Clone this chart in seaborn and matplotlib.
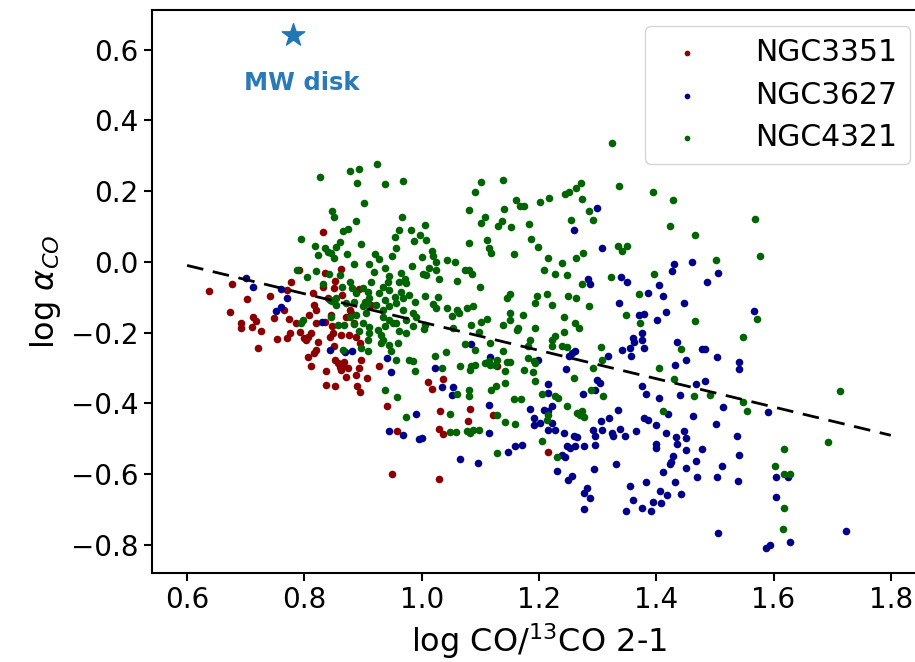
import seaborn as sns
import matplotlib.pyplot as plt
import pandas as pd

# log CO/13CO 2-1 vs log alpha_CO
ngc3351 = [
    (0.638, -0.082), (0.676, -0.062), (0.673, -0.143), (0.702, -0.105), (0.692, -0.172),
    (0.692, -0.188), (0.710, -0.183), (0.713, -0.156), (0.718, -0.166), (0.726, -0.194),
    (0.721, -0.242), (0.742, -0.096), (0.753, -0.217), (0.749, -0.159), (0.766, -0.136),
    (0.770, -0.079), (0.777, -0.056), (0.773, -0.162), (0.771, -0.216), (0.776, -0.202),
    (0.785, -0.172), (0.793, -0.197), (0.799, -0.216), (0.803, -0.220), (0.807, -0.211),
    (0.811, -0.202), (0.814, -0.089), (0.817, -0.122), (0.820, -0.136), (0.819, -0.173),
    (0.823, -0.225), (0.820, -0.249), (0.817, -0.258), (0.807, -0.268), (0.811, -0.294),
    (0.831, -0.072), (0.836, -0.169), (0.840, -0.103), (0.846, -0.150), (0.847, -0.181),
    (0.843, -0.211), (0.848, -0.202), (0.851, -0.239), (0.853, -0.277), (0.857, -0.287),
    (0.860, -0.296), (0.863, -0.305), (0.865, -0.291), (0.868, -0.282), (0.871, -0.324),
    (0.874, -0.301), (0.876, -0.206), (0.871, -0.155), (0.877, -0.136), (0.880, -0.145),
    (0.884, -0.173), (0.888, -0.211), (0.895, -0.230), (0.897, -0.277), (0.893, -0.301),
    (0.888, -0.319), (0.889, -0.352), (0.895, -0.367), (0.907, -0.327), (0.837, -0.308),
    (0.837, -0.348), (0.852, -0.352), (0.851, -0.075), (0.865, -0.093), (0.894, -0.077),
    (0.914, -0.122), (0.927, -0.294), (0.941, -0.406), (0.958, -0.478), (0.949, -0.600),
    (1.011, -0.340), (1.017, -0.360), (1.036, -0.331), (1.032, -0.421), (1.030, -0.472),
    (1.036, -0.486), (1.083, -0.417), (1.079, -0.449), (1.121, -0.432), (1.030, -0.613),
    (0.831, 0.084), (0.791, -0.024), (0.863, -0.020), (0.835, -0.030), (0.852, -0.055),
    (1.129, -0.295), (1.215, -0.538), (0.808, -0.149), (0.862, -0.208),
]

ngc3627 = [
    (0.701, -0.045), (0.713, -0.070), (0.761, -0.077), (0.771, -0.103), (0.752, -0.138),
    (0.760, -0.128), (0.830, -0.170), (0.843, -0.250), (0.870, -0.256), (0.881, -0.253),
    (0.941, -0.271), (0.948, -0.311), (0.990, -0.430), (0.944, -0.477), (0.969, -0.488),
    (0.995, -0.500), (1.299, 0.151), (1.260, 0.091), (1.307, 0.038), (1.284, -0.049),
    (1.287, -0.062), (1.340, -0.043), (1.350, -0.057), (1.431, -0.005), (1.461, 0.000),
    (1.427, -0.027), (1.505, -0.031), (1.486, -0.058), (1.405, -0.066), (1.386, -0.088),
    (1.411, -0.095), (1.336, -0.115), (1.370, -0.149), (1.360, -0.215), (1.362, -0.225),
    (1.355, -0.244), (1.342, -0.250), (1.357, -0.267), (1.318, -0.267), (1.256, -0.258),
    (1.252, -0.267), (1.262, -0.253), (1.247, -0.303), (1.199, -0.277), (1.117, -0.269),
    (1.085, -0.231), (1.023, -0.300), (1.034, -0.354), (1.053, -0.354), (1.051, -0.375),
    (1.114, -0.404), (1.184, -0.416), (1.208, -0.418), (1.216, -0.422), (1.222, -0.406),
    (1.216, -0.344), (1.216, -0.371), (1.275, -0.373), (1.299, -0.333), (1.304, -0.342),
    (1.296, -0.361), (1.334, -0.418), (1.191, -0.441), (1.202, -0.455), (1.191, -0.460),
    (1.222, -0.455), (1.228, -0.474), (1.216, -0.474), (1.242, -0.484), (1.259, -0.493),
    (1.265, -0.495), (1.276, -0.519), (1.262, -0.521), (1.248, -0.521), (1.253, -0.526),
    (1.293, -0.474), (1.296, -0.493), (1.296, -0.517), (1.305, -0.451), (1.308, -0.476),
    (1.319, -0.441), (1.325, -0.484), (1.327, -0.493), (1.338, -0.472), (1.347, -0.491),
    (1.365, -0.479), (1.115, -0.484), (1.159, -0.519), (1.171, -0.517), (1.148, -0.538),
    (1.239, -0.545), (1.245, -0.550), (1.065, -0.557), (1.000, -0.498), (1.447, -0.116),
    (1.379, -0.147), (1.416, -0.142), (1.401, -0.163), (1.376, -0.201), (1.376, -0.220),
    (1.379, -0.244), (1.435, -0.227), (1.478, -0.245), (1.483, -0.245), (1.450, -0.278),
    (1.432, -0.292), (1.504, -0.269), (1.541, -0.284), (1.542, -0.303), (1.567, -0.138),
    (1.376, -0.352), (1.382, -0.373), (1.404, -0.386), (1.440, -0.377), (1.468, -0.344),
    (1.484, -0.338), (1.514, -0.410), (1.463, -0.435), (1.502, -0.457), (1.420, -0.429),
    (1.379, -0.441), (1.386, -0.448), (1.399, -0.462), (1.416, -0.484), (1.447, -0.477),
    (1.433, -0.495), (1.450, -0.499), (1.436, -0.514), (1.399, -0.514), (1.399, -0.526),
    (1.450, -0.533), (1.478, -0.530), (1.428, -0.548), (1.423, -0.571), (1.426, -0.566),
    (1.467, -0.564), (1.513, -0.576), (1.450, -0.583), (1.411, -0.594), (1.470, -0.608),
    (1.504, -0.608), (1.538, -0.493), (1.542, -0.547), (1.540, -0.618), (1.590, -0.425),
    (1.604, -0.607), (1.624, -0.608), (1.605, -0.663), (1.382, -0.623), (1.432, -0.622),
    (1.407, -0.648), (1.419, -0.660), (1.443, -0.657), (1.395, -0.679), (1.408, -0.681),
    (1.376, -0.695), (1.391, -0.705), (1.506, -0.767), (1.587, -0.808), (1.594, -0.799),
    (1.628, -0.792), (1.723, -0.761), (1.096, -0.567), (1.231, -0.590), (1.256, -0.604),
    (1.250, -0.617), (1.294, -0.585), (1.331, -0.570), (1.282, -0.639), (1.277, -0.654),
    (1.287, -0.667), (1.276, -0.697), (1.356, -0.634), (1.361, -0.674), (1.349, -0.705),
]

ngc4321 = [
    (0.827, 0.241), (0.878, 0.257), (0.894, 0.263), (0.924, 0.278), (0.889, 0.223),
    (0.937, 0.221), (0.969, 0.229), (0.901, 0.167), (0.847, 0.144), (0.851, 0.127),
    (0.888, 0.115), (0.966, 0.126), (0.875, 0.093), (0.866, 0.086), (0.961, 0.089),
    (0.982, 0.089), (0.795, 0.066), (0.818, 0.046), (0.897, 0.051), (0.955, 0.070),
    (0.987, 0.059), (0.860, 0.056), (0.854, 0.041), (0.835, 0.039), (0.823, 0.020),
    (0.840, 0.028), (0.846, 0.025), (0.851, 0.012), (0.872, 0.021), (0.957, 0.040),
    (0.949, 0.016), (0.921, 0.023), (0.928, 0.008), (0.884, -0.007), (0.911, -0.007),
    (0.787, -0.022), (0.819, -0.025), (0.804, -0.042), (0.842, -0.035), (0.860, -0.038),
    (0.937, -0.016), (0.918, -0.028), (0.944, -0.039), (0.965, -0.032), (0.983, -0.011),
    (0.971, -0.049),
    (1.324, 0.337), (1.101, 0.227), (1.139, 0.232), (1.091, 0.198), (1.081, 0.148),
    (1.161, 0.175), (1.168, 0.157), (1.175, 0.158), (1.141, 0.150), (1.202, 0.169),
    (1.218, 0.180), (1.244, 0.193), (1.252, 0.197), (1.263, 0.208), (1.271, 0.223),
    (1.273, 0.178), (1.286, 0.143), (1.292, 0.117), (1.337, 0.214), (1.108, 0.127),
    (1.101, 0.111), (1.137, 0.116), (1.131, 0.100), (1.153, 0.098), (1.183, 0.108),
    (1.255, 0.119), (1.005, 0.103), (1.007, 0.063), (0.997, 0.077), (1.112, 0.063),
    (1.187, 0.066), (1.198, 0.043), (1.081, 0.052), (1.115, 0.038), (1.119, 0.025),
    (1.157, 0.021), (1.017, 0.030), (1.020, 0.017), (1.024, 0.001), (1.000, 0.015),
    (1.044, 0.005), (1.057, 0.001), (1.012, -0.016), (1.025, -0.022), (1.074, -0.022),
    (1.080, -0.024), (1.086, -0.035), (1.002, -0.034), (1.008, -0.036), (1.029, -0.048),
    (1.061, -0.053), (1.100, -0.070), (1.216, 0.012), (1.208, -0.022), (1.228, -0.034),
    (1.248, -0.037), (1.240, -0.004), (1.263, 0.011), (1.275, 0.024), (1.335, 0.046),
    (1.351, 0.046), (1.341, 0.031), (1.323, -0.044), (1.274, -0.062), (1.151, -0.090),
    (1.146, -0.103), (1.197, -0.097), (1.214, -0.091), (1.249, -0.097), (1.264, -0.103),
    (1.005, -0.095), (1.028, -0.098), (1.371, -0.091),
    (1.394, 0.197), (1.428, 0.176), (1.424, 0.100), (1.466, 0.075), (1.568, 0.120),
    (1.577, 0.018), (1.502, 0.006), (1.396, -0.034),
    (0.831, -0.062), (0.843, -0.107), (0.854, -0.103), (0.865, -0.070), (0.881, -0.075),
    (0.888, -0.089), (0.900, -0.075), (0.908, -0.084), (0.911, -0.103), (0.928, -0.089),
    (0.934, -0.070), (0.945, -0.079), (0.954, -0.098), (0.965, -0.084), (0.968, -0.103),
    (0.979, -0.093), (0.988, -0.112), (0.937, -0.107), (0.903, -0.112), (0.877, -0.056),
    (0.914, -0.056), (0.942, -0.056), (0.962, -0.056), (0.974, -0.060),
    (0.847, -0.110), (0.854, -0.122), (0.871, -0.117), (0.884, -0.112), (0.900, -0.126),
    (0.908, -0.117), (0.922, -0.122), (0.934, -0.136), (0.945, -0.126), (0.957, -0.117),
    (0.968, -0.136), (0.985, -0.145), (0.991, -0.155), (0.974, -0.164), (0.957, -0.173),
    (0.945, -0.164), (0.934, -0.155), (0.905, -0.145), (0.888, -0.150), (0.877, -0.155),
    (0.868, -0.178), (0.846, -0.155), (0.900, -0.173), (0.911, -0.183), (0.925, -0.192),
    (0.794, -0.173), (0.798, -0.165), (0.857, -0.178), (0.885, -0.175), (0.894, -0.196),
    (0.908, -0.220), (0.911, -0.201), (0.897, -0.244), (0.908, -0.253), (0.866, -0.248),
    (0.931, -0.206), (0.934, -0.220), (0.931, -0.229), (0.945, -0.234), (0.948, -0.253),
    (0.960, -0.229), (0.937, -0.182), (0.951, -0.173), (0.962, -0.196), (0.974, -0.201),
    (0.985, -0.182), (0.957, -0.277), (0.978, -0.277), (0.985, -0.281), (0.988, -0.309),
    (0.938, -0.363), (0.958, -0.383), (0.974, -0.438),
    (1.020, -0.118), (1.024, -0.131), (1.044, -0.131), (1.061, -0.135), (1.063, -0.145),
    (1.077, -0.131), (1.088, -0.124), (1.052, -0.154), (1.004, -0.190), (1.006, -0.178),
    (1.053, -0.186), (1.085, -0.178), (1.102, -0.171), (1.111, -0.162), (1.097, -0.199),
    (1.074, -0.231), (1.091, -0.250), (1.138, -0.178), (1.151, -0.165), (1.151, -0.145),
    (1.162, -0.192), (1.165, -0.187), (1.173, -0.149), (1.194, -0.116), (1.194, -0.187),
    (1.223, -0.121), (1.243, -0.156), (1.262, -0.173), (1.269, -0.187), (1.242, -0.199),
    (1.228, -0.209), (1.222, -0.220), (1.222, -0.239), (1.239, -0.239), (1.248, -0.241),
    (1.285, -0.126), (1.349, -0.149), (1.305, -0.241), (1.308, -0.277), (1.292, -0.300),
    (1.185, -0.222), (1.182, -0.237), (1.117, -0.229), (1.139, -0.253), (1.023, -0.267),
    (1.041, -0.256), (1.034, -0.300), (1.065, -0.293), (1.082, -0.305), (1.085, -0.295),
    (1.091, -0.291), (1.108, -0.286), (1.114, -0.281), (1.117, -0.291), (1.128, -0.277),
    (1.125, -0.291), (1.145, -0.283), (1.151, -0.283), (1.142, -0.309), (1.182, -0.272),
    (1.191, -0.281), (1.194, -0.286), (1.174, -0.305), (1.190, -0.312), (1.194, -0.338),
    (1.142, -0.341), (1.127, -0.352), (1.118, -0.361), (1.081, -0.363), (1.081, -0.380),
    (1.060, -0.373), (1.048, -0.429), (1.259, -0.328), (1.289, -0.361), (1.310, -0.378),
    (1.228, -0.380), (1.233, -0.385), (1.158, -0.388), (1.170, -0.387), (1.205, -0.373),
    (1.248, -0.406), (1.216, -0.432), (1.214, -0.446), (1.129, -0.432), (1.142, -0.453),
    (1.159, -0.458), (1.265, -0.427), (1.270, -0.432), (1.276, -0.437), (1.273, -0.422),
    (1.078, -0.479), (1.082, -0.484), (1.088, -0.476), (1.097, -0.474), (1.048, -0.482),
    (1.058, -0.482), (1.128, -0.540), (1.205, -0.507), (1.231, -0.550),
    (1.466, -0.166), (1.571, -0.162), (1.548, -0.211), (1.442, -0.246), (1.405, -0.300),
    (1.430, -0.331), (1.464, -0.380), (1.491, -0.377), (1.548, -0.397), (1.554, -0.420),
    (1.411, -0.421), (1.714, -0.365), (1.693, -0.508), (1.618, -0.529), (1.603, -0.578),
    (1.618, -0.599), (1.628, -0.600), (1.618, -0.695), (1.616, -0.754), (1.373, -0.173),
]

galaxies = ["NGC3351", "NGC3627", "NGC4321"]
colors = ["darkred", "darkblue", "darkgreen"]

# fitted relation (dashed line)
fit_x = [0.6, 1.8]
fit_y = [-0.01, -0.49]

# Milky Way disk value
mw_x = [0.78]
mw_y = [0.64]

sns.set_style("ticks")
plt.rcParams["font.family"] = ["DejaVu Sans"]
plt.rcParams["text.color"] = "black"
plt.rcParams["axes.labelcolor"] = "black"
plt.rcParams["xtick.color"] = "black"
plt.rcParams["ytick.color"] = "black"

fig = plt.figure(figsize=(9.15, 6.62), dpi=100)
ax = fig.add_axes([0.166, 0.134, 0.846, 0.851])

for name, pts, c in zip(galaxies, [ngc3351, ngc3627, ngc4321], colors):
    df = pd.DataFrame(pts, columns=["x", "y"])
    sns.scatterplot(data=df, x="x", y="y", color=c, s=30, linewidth=0,
                    label=name, ax=ax, zorder=2)

ax.plot(fit_x, fit_y, color="black", lw=2, ls=(0, (6, 3.5)), zorder=3)

ax.scatter(mw_x, mw_y, marker="*", s=290, color="#1f77b4", zorder=3)
ax.text(0.795, 0.505, "MW disk", color="#2a7ab9", fontsize=17.5,
        fontweight="bold", ha="center", va="center")

ax.set_xlim(0.54, 1.86)
ax.set_ylim(-0.88, 0.712)
ax.set_xticks([0.6, 0.8, 1.0, 1.2, 1.4, 1.6, 1.8])
ax.set_yticks([-0.8, -0.6, -0.4, -0.2, 0.0, 0.2, 0.4, 0.6])
ax.tick_params(labelsize=20, length=6, width=1.5, color="black")

ax.set_xlabel(r"log CO/$^{13}$CO 2-1", fontsize=23, labelpad=5)
ax.set_ylabel(r"log $\alpha_{CO}$", fontsize=23, labelpad=6)

for sp in ax.spines.values():
    sp.set_color("black")
    sp.set_linewidth(1.5)
ax.spines["right"].set_visible(False)

ax.legend(loc="upper right", fontsize=21.5, markerscale=0.75,
          handletextpad=1.3, labelspacing=0.45, borderaxespad=0.55,
          frameon=True)

fig.savefig("out.png", dpi=100)
